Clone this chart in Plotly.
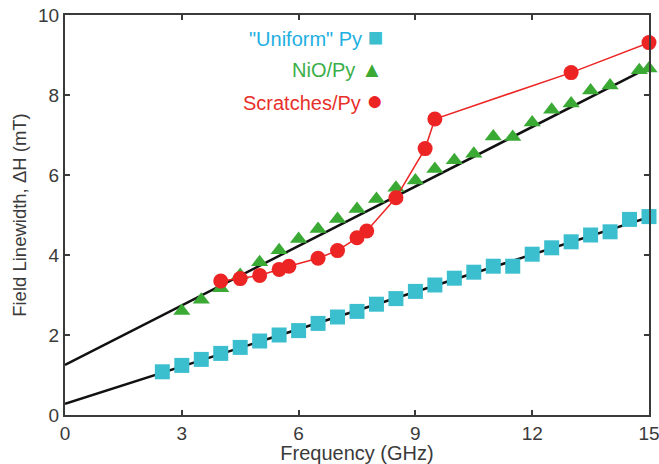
import plotly.graph_objects as go

# ---- data ----
uniform_x = [2.5, 3, 3.5, 4, 4.5, 5, 5.5, 6, 6.5, 7, 7.5, 8, 8.5, 9, 9.5, 10,
             10.5, 11, 11.5, 12, 12.5, 13, 13.5, 14, 14.5, 15]
uniform_y = [1.08, 1.24, 1.39, 1.54, 1.69, 1.85, 2.0, 2.11, 2.29, 2.45, 2.59, 2.77,
             2.91, 3.09, 3.25, 3.42, 3.57, 3.72, 3.72, 4.02, 4.18, 4.33, 4.5, 4.58,
             4.89, 4.96]

nio_x = [3, 3.5, 4, 4.5, 5, 5.5, 6, 6.5, 7, 7.5, 8, 8.5, 9, 9.5, 10, 10.5,
         11, 11.5, 12, 12.5, 13, 13.5, 14, 14.75, 15]
nio_y = [2.6, 2.88, 3.17, 3.5, 3.82, 4.12, 4.4, 4.65, 4.9, 5.15, 5.4, 5.68,
         5.86, 6.15, 6.37, 6.53, 6.96, 6.95, 7.31, 7.63, 7.79, 8.11, 8.24, 8.62, 8.66]

scr_x = [4, 4.5, 5, 5.5, 5.75, 6.5, 7, 7.5, 7.75, 8.5, 9.25, 9.5, 13, 15]
scr_y = [3.35, 3.41, 3.49, 3.64, 3.72, 3.92, 4.11, 4.43, 4.6, 5.43, 6.66, 7.4, 8.56, 9.31]

# linear fits (intercept, slope)
uniform_fit = (0.28, 0.311)
nio_fit = (1.25, 0.496)

x_range = [0, 15]
y_range = [0, 10]
x_ticks = [0, 3, 6, 9, 12, 15]
y_ticks = [0, 2, 4, 6, 8, 10]

legend_labels = ['"Uniform" Py', 'NiO/Py', 'Scratches/Py']

# ---- styles ----
C_CYAN = '#3bbfcf'
C_GREEN = '#3aaa35'
C_RED = '#ec2424'
T_CYAN = '#1eb0e2'
T_GREEN = '#3aae48'
T_RED = '#e8302a'
AX = '#3a3a3a'
FONT = 'Liberation Sans, Arial, sans-serif'

fig = go.Figure()

def fit_line(p):
    return [p[0] + p[1] * x for x in x_range]

fig.add_trace(go.Scatter(x=x_range, y=fit_line(uniform_fit), mode='lines',
                         line=dict(color='#111111', width=2.5), showlegend=False))
fig.add_trace(go.Scatter(x=x_range, y=fit_line(nio_fit), mode='lines',
                         line=dict(color='#111111', width=2.5), showlegend=False))

fig.add_trace(go.Scatter(x=uniform_x, y=uniform_y, mode='markers',
                         marker=dict(symbol='square', size=15, color=C_CYAN),
                         showlegend=False, cliponaxis=False))
fig.add_trace(go.Scatter(x=nio_x, y=nio_y, mode='markers',
                         marker=dict(symbol='triangle-up', size=15, color=C_GREEN),
                         showlegend=False, cliponaxis=False))
fig.add_trace(go.Scatter(x=scr_x, y=scr_y, mode='lines+markers',
                         line=dict(color=C_RED, width=1.5),
                         marker=dict(symbol='circle', size=15, color=C_RED),
                         showlegend=False, cliponaxis=False))

legend_items = [
    (legend_labels[0], T_CYAN, C_CYAN, '■', 0.945, 26),
    (legend_labels[1], T_GREEN, C_GREEN, '▲', 0.865, 22),
    (legend_labels[2], T_RED, C_RED, '●', 0.785, 28),
]
for label, tc, mc, sym, yp, ss in legend_items:
    fig.add_annotation(
        x=0.548, y=yp, xref='paper', yref='paper', xanchor='right', yanchor='middle',
        showarrow=False,
        text=(f'<span style="color:{tc}">{label}</span> '
              f'<span style="color:{mc};font-size:{ss}px">{sym}</span>'),
        font=dict(family=FONT, size=20),
    )

axis_common = dict(
    showline=True, linecolor=AX, linewidth=2, mirror='ticks',
    ticks='inside', ticklen=5, tickwidth=1.5, tickcolor=AX,
    showgrid=False, zeroline=False, automargin=False,
    ticklabeloverflow='allow',
    tickfont=dict(family=FONT, size=19, color=AX),
)

fig.update_xaxes(range=x_range, tickvals=x_ticks,
                 title=dict(text='Frequency (GHz)', standoff=4,
                            font=dict(family=FONT, size=20, color=AX)),
                 **axis_common)
fig.update_yaxes(range=y_range, tickvals=y_ticks,
                 title=dict(text='Field Linewidth, ΔH (mT)', standoff=7,
                            font=dict(family=FONT, size=18.5, color=AX)),
                 **axis_common)

fig.update_layout(
    width=659, height=464,
    margin=dict(l=65, r=10, t=15, b=49),
    plot_bgcolor='white', paper_bgcolor='white',
    font=dict(family=FONT),
)

# remove the default page margin so the figure sits at the window's corner
fig.write_html('out.html', config={'displayModeBar': False},
               post_script="document.body.style.margin='0';")
